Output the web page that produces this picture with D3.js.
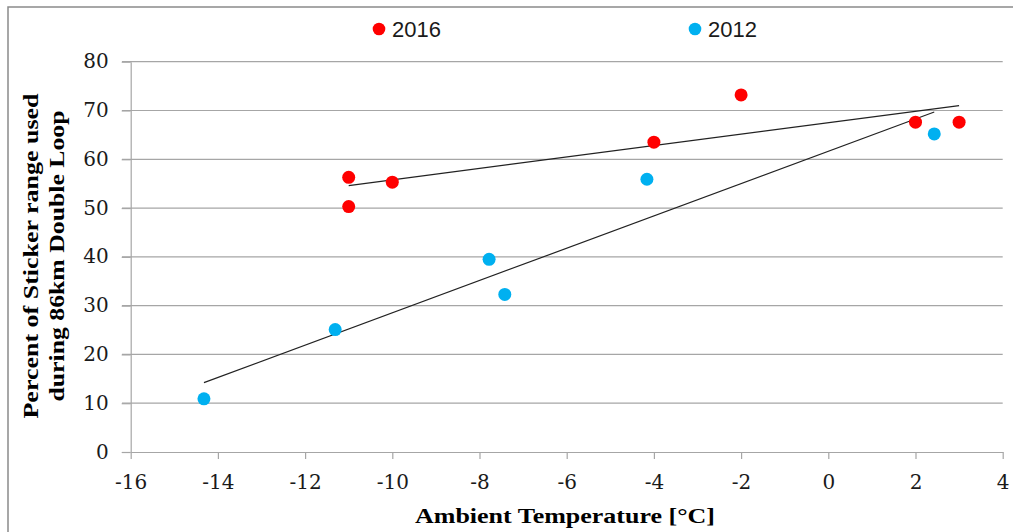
<!DOCTYPE html>
<html><head><meta charset="utf-8">
<script src="https://cdn.jsdelivr.net/npm/d3@7"></script>
<style>
html,body{margin:0;padding:0;background:#fff;}
svg{display:block;}
</style></head>
<body>
<svg id="c" width="1013" height="532"></svg>
<script>
const xTicks = [-16,-14,-12,-10,-8,-6,-4,-2,0,2,4];
const yTicks = [0,10,20,30,40,50,60,70,80];
const seriesNames = ["2016","2012"];
const temp2016 = [-11,-11,-10,-4,-2,2,3];
const pct2016  = [56.3,50.3,55.3,63.5,73.2,67.6,67.6];
const temp2012 = [-14.32,-11.31,-7.78,-7.42,-4.16,2.43];
const pct2012  = [10.9,25.1,39.5,32.3,55.9,65.2];

const svg = d3.select("#c");
const X0 = 130.7, X1 = 1002.7, Y0 = 452, Y1 = 61.7;
const x = d3.scaleLinear().domain([-16,4]).range([X0,X1]);
const y = d3.scaleLinear().domain([0,80]).range([Y0,Y1]);
const grid = "#a6a6a6";

// outer frame
svg.append("rect").attr("x",8).attr("y",7).attr("width",1020).attr("height",540)
  .attr("fill","none").attr("stroke","#8a8a8a").attr("stroke-width",1.5);

// gridlines
svg.append("g").selectAll("line").data(yTicks.filter(d=>d>0)).join("line")
  .attr("x1",122).attr("x2",X1).attr("y1",d=>y(d)).attr("y2",d=>y(d))
  .attr("stroke",grid).attr("stroke-width",1.2);

// y axis
const ya = svg.append("g").attr("transform",`translate(${X0},0)`)
  .call(d3.axisLeft(y).tickValues(yTicks).tickSize(9).tickSizeOuter(0).tickPadding(13)
    .tickFormat(d=>String(d)));
ya.select(".domain").attr("stroke",grid).attr("stroke-width",1.2);
ya.selectAll(".tick line").attr("stroke",grid).attr("stroke-width",1.2);
ya.selectAll(".tick text").attr("font-family","DejaVu Serif").attr("font-size",20)
  .attr("fill","#1a1a1a").attr("dy","0.3em");

// x axis
const xa = svg.append("g").attr("transform",`translate(0,${Y0})`)
  .call(d3.axisBottom(x).tickValues(xTicks).tickSize(7).tickSizeOuter(0).tickPadding(16)
    .tickFormat(d=>String(d)));
xa.select(".domain").attr("stroke",grid).attr("stroke-width",1.2);
xa.selectAll(".tick line").attr("stroke",grid).attr("stroke-width",1.2);
xa.selectAll(".tick text").attr("font-family","DejaVu Serif").attr("font-size",20)
  .attr("fill","#1a1a1a").attr("dy","0.72em");

// trendlines
function fit(xs, ys){
  const mx=d3.mean(xs), my=d3.mean(ys);
  let sxy=0,sxx=0; xs.forEach((v,i)=>{sxy+=(v-mx)*(ys[i]-my); sxx+=(v-mx)*(v-mx);});
  const b=sxy/sxx, a=my-b*mx;
  const lo=d3.min(xs), hi=d3.max(xs);
  return [[lo,a+b*lo],[hi,a+b*hi]];
}
const line = d3.line().x(d=>x(d[0])).y(d=>y(d[1]));
[[temp2016,pct2016],[temp2012,pct2012]].forEach(([xs,ys])=>{
  svg.append("path").attr("d",line(fit(xs,ys))).attr("fill","none")
    .attr("stroke","#222").attr("stroke-width",1.2);
});

// points
const colors = {"2016":"#ff0000","2012":"#00b0f0"};
svg.append("g").selectAll("circle").data(temp2016.map((t,i)=>[t,pct2016[i]])).join("circle")
  .attr("cx",d=>x(d[0])).attr("cy",d=>y(d[1])).attr("r",6.5).attr("fill",colors["2016"]);
svg.append("g").selectAll("circle").data(temp2012.map((t,i)=>[t,pct2012[i]])).join("circle")
  .attr("cx",d=>x(d[0])).attr("cy",d=>y(d[1])).attr("r",6.5).attr("fill",colors["2012"]);

// legend
const legX = [379, 695];
seriesNames.forEach((n,i)=>{
  svg.append("circle").attr("cx",legX[i]).attr("cy",29).attr("r",6.3).attr("fill",colors[n]);
  svg.append("text").attr("x",legX[i]+13).attr("y",37.3).text(n)
    .attr("font-family","Liberation Sans").attr("font-size",22).attr("fill","#1a1a1a");
});

// axis titles
svg.append("text").attr("x",565).attr("y",523).attr("text-anchor","middle")
  .attr("font-family","Liberation Serif").attr("font-weight","bold").attr("font-size",22)
  .attr("textLength",300).attr("lengthAdjust","spacingAndGlyphs")
  .text("Ambient Temperature [°C]");
const yt = svg.append("g").attr("transform","translate(0,256) rotate(-90)");
yt.append("text").attr("x",0).attr("y",38).attr("text-anchor","middle")
  .attr("font-family","Liberation Serif").attr("font-weight","bold").attr("font-size",22)
  .attr("textLength",325).attr("lengthAdjust","spacingAndGlyphs")
  .text("Percent of Sticker range used");
yt.append("text").attr("x",0).attr("y",64).attr("text-anchor","middle")
  .attr("font-family","Liberation Serif").attr("font-weight","bold").attr("font-size",22)
  .attr("textLength",291).attr("lengthAdjust","spacingAndGlyphs")
  .text("during 86km Double Loop");
</script>
</body></html>
